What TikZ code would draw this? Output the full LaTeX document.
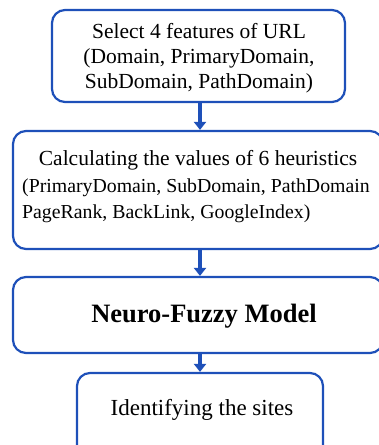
\documentclass[tikz,border=0pt]{standalone}
\usepackage{fontspec}
\setmainfont{Liberation Serif}
\usetikzlibrary{arrows.meta}
\definecolor{flowblue}{RGB}{30,80,185}

\begin{document}
\begin{tikzpicture}[x=1pt,y=-1pt,
    box/.style={draw=flowblue,line width=2.2pt,rounded corners=13pt,inner sep=0pt},
    flow/.style={draw=flowblue,line width=3.4pt,-{Triangle[width=12pt,length=8pt]}},
    txt/.style={inner sep=0pt,anchor=base}]
    \useasboundingbox (0,0) rectangle (378,445);

    \node[box,minimum width=293pt,minimum height=92pt] (select) at (198.5,56) {}; %boite 1
    \node[box,minimum width=370pt,minimum height=118pt] (calc) at (198,190) {}; %boite 2
    \node[box,minimum width=370pt,minimum height=76pt] (model) at (198,315) {}; %boite 3
    \node[box,minimum width=246pt,minimum height=88pt] (ident) at (200,417) {}; %boite 4

    \coordinate (ax) at (200,0); % axe des fleches

    % base = derniere ligne
    \node[txt,align=center,font=\fontsize{21.5}{25}\selectfont] (selecttxt) at (199,88)
        {Select 4 features of URL\\(Domain, PrimaryDomain,\\SubDomain, PathDomain)};
    \node[txt,font=\fontsize{21.5}{26}\selectfont] (calctxt) at (198,165)
        {Calculating the values of 6 heuristics};
    \node[txt,anchor=base west,align=left,font=\fontsize{19.8}{26}\selectfont] (calclist) at (22,218)
        {(PrimaryDomain, SubDomain, PathDomain\\PageRank, BackLink, GoogleIndex)};
    \node[txt,font=\fontsize{26.5}{30}\selectfont\bfseries] (modeltxt) at (204,322)
        {Neuro-Fuzzy Model};
    \node[txt,font=\fontsize{23}{27}\selectfont] (identtxt) at (202,415)
        {Identifying the sites};

    \draw[flow] (select.south -| ax) -- (calc.north -| ax); %fleche 1
    \draw[flow] (calc.south -| ax) -- (model.north -| ax); %fleche 2
    \draw[flow] (model.south -| ax) -- (ident.north -| ax); %fleche 3
\end{tikzpicture}
\end{document}
